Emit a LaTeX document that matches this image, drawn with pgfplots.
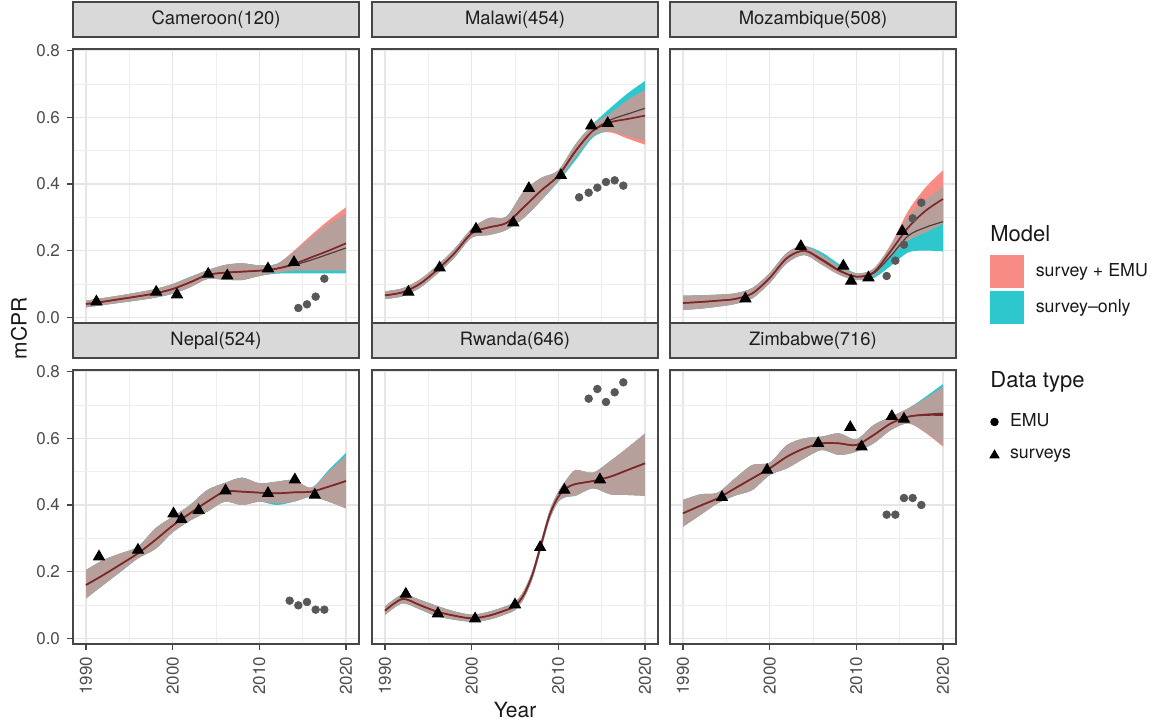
\documentclass[border=0pt]{standalone}
\usepackage{fontspec}
\setmainfont{TeX Gyre Heros}
\usepackage{pgfplots}
\pgfplotsset{compat=1.18}
\usepackage{pgfplotstable}
\usepgfplotslibrary{fillbetween}

\definecolor{pinkc}{RGB}{248,140,133}
\definecolor{cyanc}{RGB}{45,200,205}
\definecolor{overc}{RGB}{183,160,155}
\definecolor{line1c}{RGB}{128,38,38}
\definecolor{line2c}{RGB}{75,62,62}
\definecolor{emuc}{RGB}{88,88,88}
\definecolor{gridmaj}{RGB}{230,230,230}
\definecolor{gridmin}{RGB}{238,238,238}
\definecolor{bordc}{RGB}{70,70,70}
\definecolor{stripc}{RGB}{217,217,217}
\definecolor{striptext}{RGB}{30,30,30}
\definecolor{tickc}{RGB}{77,77,77}

% ---------------- data ----------------
\pgfplotstableread{
yr mid mid2 clo chi plo phi slo shi
1990 0.040 0.040 0.030 0.050 0.030 0.050 0.030 0.050
1992 0.047 0.047 0.037 0.058 0.037 0.058 0.037 0.058
1994 0.055 0.055 0.044 0.066 0.044 0.066 0.044 0.066
1996 0.063 0.063 0.051 0.075 0.051 0.075 0.051 0.075
1998 0.072 0.072 0.059 0.085 0.059 0.085 0.059 0.085
2000 0.085 0.085 0.071 0.100 0.071 0.100 0.071 0.100
2002 0.105 0.105 0.090 0.121 0.090 0.121 0.090 0.121
2004 0.127 0.127 0.115 0.141 0.115 0.141 0.115 0.141
2006 0.134 0.134 0.113 0.157 0.113 0.157 0.113 0.157
2008 0.137 0.137 0.112 0.162 0.112 0.162 0.112 0.162
2010 0.140 0.140 0.124 0.156 0.124 0.156 0.124 0.156
2012 0.146 0.146 0.134 0.160 0.134 0.160 0.131 0.160
2014 0.160 0.157 0.140 0.195 0.140 0.200 0.132 0.195
2016 0.180 0.172 0.140 0.238 0.140 0.247 0.132 0.238
2018 0.200 0.190 0.140 0.278 0.140 0.291 0.132 0.278
2020 0.222 0.208 0.140 0.310 0.140 0.330 0.132 0.310
}\camB
\pgfplotstableread{
yr v
1991.2 0.047
1998.1 0.076
2000.5 0.068
2004.1 0.130
2006.3 0.125
2011.0 0.146
2014.0 0.165
}\camS
\pgfplotstableread{
yr v
2014.5 0.028
2015.5 0.039
2016.5 0.062
2017.5 0.116
}\camE

\pgfplotstableread{
yr mid mid2 clo chi plo phi slo shi
1990 0.066 0.066 0.055 0.078 0.055 0.078 0.055 0.078
1992 0.075 0.075 0.063 0.087 0.063 0.087 0.063 0.087
1994 0.100 0.100 0.088 0.113 0.088 0.113 0.088 0.113
1996 0.142 0.142 0.130 0.155 0.130 0.155 0.130 0.155
1998 0.192 0.192 0.179 0.205 0.179 0.205 0.179 0.205
2000 0.252 0.252 0.239 0.266 0.239 0.266 0.239 0.266
2002 0.270 0.270 0.247 0.298 0.247 0.298 0.247 0.298
2004 0.283 0.283 0.262 0.302 0.262 0.302 0.262 0.302
2006 0.330 0.330 0.298 0.378 0.298 0.378 0.298 0.378
2008 0.380 0.380 0.350 0.418 0.350 0.418 0.350 0.418
2010 0.425 0.425 0.410 0.441 0.410 0.441 0.407 0.441
2012 0.500 0.498 0.482 0.520 0.482 0.520 0.472 0.520
2014 0.560 0.560 0.545 0.578 0.545 0.578 0.540 0.580
2016 0.585 0.592 0.560 0.612 0.555 0.612 0.560 0.628
2018 0.595 0.610 0.545 0.652 0.536 0.652 0.545 0.672
2020 0.605 0.627 0.532 0.682 0.518 0.682 0.532 0.709
}\malB
\pgfplotstableread{
yr v
1992.7 0.076
1996.3 0.149
2000.5 0.265
2004.8 0.284
2006.6 0.387
2010.3 0.426
2013.8 0.575
2015.7 0.582
}\malS
\pgfplotstableread{
yr v
2012.4 0.360
2013.5 0.374
2014.5 0.389
2015.5 0.406
2016.5 0.411
2017.5 0.395
}\malE

\pgfplotstableread{
yr mid mid2 clo chi plo phi slo shi
1990 0.043 0.043 0.022 0.065 0.022 0.065 0.022 0.065
1992 0.046 0.046 0.026 0.066 0.026 0.066 0.026 0.066
1994 0.050 0.050 0.032 0.068 0.032 0.068 0.032 0.068
1996 0.055 0.055 0.040 0.072 0.040 0.072 0.040 0.072
1998 0.072 0.072 0.057 0.088 0.057 0.088 0.057 0.088
2000 0.118 0.118 0.103 0.133 0.103 0.133 0.103 0.133
2002 0.178 0.178 0.163 0.194 0.163 0.194 0.163 0.194
2004 0.200 0.200 0.187 0.214 0.187 0.214 0.187 0.214
2006 0.172 0.175 0.158 0.187 0.158 0.187 0.160 0.195
2008 0.140 0.142 0.128 0.153 0.128 0.153 0.128 0.160
2010 0.122 0.122 0.112 0.132 0.112 0.132 0.112 0.132
2012 0.135 0.132 0.125 0.146 0.125 0.146 0.118 0.146
2014 0.200 0.185 0.183 0.215 0.183 0.220 0.155 0.215
2016 0.270 0.245 0.230 0.300 0.230 0.320 0.195 0.300
2018 0.320 0.270 0.255 0.350 0.255 0.390 0.200 0.350
2020 0.355 0.287 0.280 0.390 0.280 0.441 0.198 0.390
}\mozB
\pgfplotstableread{
yr v
1997.2 0.056
2003.6 0.213
2008.5 0.154
2009.4 0.109
2011.4 0.119
2015.3 0.258
}\mozS
\pgfplotstableread{
yr v
2013.5 0.124
2014.5 0.170
2015.5 0.218
2016.5 0.297
2017.5 0.344
}\mozE

\pgfplotstableread{
yr mid mid2 clo chi plo phi slo shi
1990 0.160 0.160 0.120 0.205 0.120 0.205 0.120 0.205
1992 0.190 0.190 0.160 0.235 0.160 0.235 0.160 0.235
1994 0.222 0.222 0.200 0.255 0.200 0.255 0.200 0.255
1996 0.255 0.255 0.240 0.275 0.240 0.275 0.240 0.275
1998 0.295 0.295 0.268 0.330 0.268 0.330 0.268 0.330
2000 0.338 0.338 0.318 0.365 0.318 0.365 0.318 0.365
2002 0.375 0.375 0.353 0.400 0.353 0.400 0.353 0.400
2004 0.410 0.410 0.380 0.445 0.380 0.445 0.380 0.445
2006 0.440 0.440 0.410 0.466 0.410 0.466 0.410 0.466
2008 0.440 0.440 0.400 0.482 0.400 0.482 0.400 0.482
2010 0.437 0.437 0.410 0.465 0.410 0.465 0.410 0.465
2012 0.435 0.435 0.405 0.470 0.405 0.470 0.400 0.470
2014 0.438 0.438 0.410 0.475 0.410 0.475 0.410 0.475
2016 0.440 0.440 0.425 0.452 0.425 0.452 0.425 0.452
2018 0.455 0.455 0.410 0.500 0.410 0.500 0.410 0.505
2020 0.472 0.472 0.390 0.548 0.390 0.548 0.390 0.556
}\nepB
\pgfplotstableread{
yr v
1991.5 0.245
1996.0 0.265
2000.1 0.374
2001.0 0.357
2003.0 0.384
2006.1 0.443
2011.0 0.435
2014.1 0.476
2016.4 0.430
}\nepS
\pgfplotstableread{
yr v
2013.5 0.113
2014.5 0.099
2015.5 0.109
2016.5 0.086
2017.5 0.086
}\nepE

\pgfplotstableread{
yr mid mid2 clo chi plo phi slo shi
1990 0.083 0.083 0.070 0.096 0.070 0.096 0.070 0.096
1992 0.118 0.118 0.105 0.131 0.105 0.131 0.105 0.131
1994 0.100 0.100 0.087 0.116 0.087 0.116 0.087 0.116
1996 0.080 0.080 0.066 0.097 0.066 0.097 0.066 0.097
1998 0.068 0.068 0.056 0.081 0.056 0.081 0.056 0.081
2000 0.060 0.060 0.050 0.071 0.050 0.071 0.050 0.071
2002 0.068 0.068 0.056 0.080 0.056 0.080 0.056 0.080
2004 0.085 0.085 0.073 0.097 0.073 0.097 0.073 0.097
2005 0.097 0.097 0.085 0.109 0.085 0.109 0.085 0.109
2006 0.130 0.130 0.118 0.142 0.118 0.142 0.118 0.142
2007 0.190 0.190 0.178 0.202 0.178 0.202 0.178 0.202
2008 0.280 0.280 0.268 0.292 0.268 0.292 0.268 0.292
2009 0.370 0.370 0.357 0.383 0.357 0.383 0.357 0.383
2010 0.425 0.425 0.410 0.440 0.410 0.440 0.410 0.440
2011 0.452 0.452 0.425 0.478 0.425 0.478 0.425 0.478
2012 0.463 0.463 0.428 0.505 0.428 0.505 0.428 0.505
2014 0.472 0.472 0.450 0.497 0.450 0.497 0.450 0.497
2016 0.485 0.485 0.432 0.532 0.432 0.532 0.432 0.532
2018 0.505 0.505 0.430 0.572 0.430 0.572 0.430 0.572
2020 0.525 0.525 0.428 0.614 0.428 0.614 0.428 0.614
}\rwaB
\pgfplotstableread{
yr v
1992.4 0.133
1996.1 0.074
2000.4 0.059
2005.0 0.101
2007.9 0.273
2010.7 0.445
2014.8 0.476
}\rwaS
\pgfplotstableread{
yr v
2013.5 0.719
2014.5 0.748
2015.5 0.709
2016.5 0.738
2017.5 0.768
}\rwaE

\pgfplotstableread{
yr mid mid2 clo chi plo phi slo shi
1990 0.375 0.375 0.335 0.415 0.335 0.415 0.335 0.415
1992 0.398 0.398 0.370 0.432 0.370 0.432 0.370 0.432
1994 0.420 0.420 0.405 0.437 0.405 0.437 0.405 0.437
1996 0.450 0.450 0.428 0.480 0.428 0.480 0.428 0.480
1998 0.480 0.480 0.445 0.520 0.445 0.520 0.445 0.520
2000 0.510 0.510 0.490 0.527 0.490 0.527 0.490 0.527
2002 0.545 0.545 0.510 0.580 0.510 0.580 0.510 0.580
2004 0.570 0.570 0.540 0.600 0.540 0.600 0.540 0.600
2006 0.585 0.585 0.565 0.605 0.565 0.605 0.565 0.605
2008 0.585 0.585 0.550 0.615 0.550 0.615 0.550 0.615
2010 0.580 0.580 0.560 0.597 0.560 0.597 0.560 0.597
2012 0.610 0.610 0.585 0.640 0.585 0.640 0.585 0.640
2014 0.645 0.645 0.625 0.665 0.625 0.665 0.625 0.665
2016 0.665 0.665 0.645 0.690 0.645 0.690 0.645 0.690
2018 0.670 0.672 0.620 0.720 0.616 0.720 0.620 0.725
2020 0.670 0.675 0.580 0.755 0.575 0.755 0.580 0.763
}\zimB
\pgfplotstableread{
yr v
1994.5 0.423
1999.7 0.505
2005.6 0.585
2009.3 0.633
2010.6 0.575
2014.1 0.666
2015.5 0.658
}\zimS
\pgfplotstableread{
yr v
2013.5 0.371
2014.5 0.371
2015.5 0.421
2016.5 0.421
2017.5 0.400
}\zimE

% ---------------- styles ----------------
\pgfplotsset{
 panel/.style={
  scale only axis, width=143pt, height=137pt, anchor=south west,
  xmin=1988.5, xmax=2021.5, ymin=-0.017, ymax=0.805,
  xtick={1990,2000,2010,2020}, minor xtick={1995,2005,2015},
  ytick={0,0.2,0.4,0.6,0.8}, minor ytick={0.1,0.3,0.5,0.7},
  grid=both,
  major grid style={draw=gridmaj, line width=0.7pt},
  minor grid style={draw=gridmin, line width=0.35pt},
  axis line style={draw=bordc, line width=0.6pt},
  tick align=outside, xtick pos=bottom, ytick pos=left,
  major tick length=3pt, minor tick length=0pt,
  tick style={draw=bordc, line width=0.6pt},
  ticklabel style={font=\fontsize{8.5}{10}\selectfont, text=tickc},
  /pgf/number format/assume math mode=true,
  xticklabel style={rotate=90, anchor=east, /pgf/number format/1000 sep={}},
  yticklabel style={/pgf/number format/fixed, /pgf/number format/fixed zerofill, /pgf/number format/precision=1},
  title style={at={(0.5,1)}, anchor=south, fill=stripc, draw=bordc, line width=0.6pt,
     minimum width=143pt, minimum height=17.5pt, inner sep=0pt, outer sep=0pt,
     font=\fontsize{9.2}{11}\selectfont, text=striptext},
 },
 nox/.style={xticklabels={}, xtick style={draw=none}},
 noy/.style={yticklabels={}, ytick style={draw=none}},
}

\newcommand{\bands}[4]{%
 \addplot[name path=#1pl, draw=none, smooth] table[x=yr,y=plo]{#2};
 \addplot[name path=#1ph, draw=none, smooth] table[x=yr,y=phi]{#2};
 \addplot[fill=pinkc, draw=none] fill between[of=#1pl and #1ph];
 \addplot[name path=#1sl, draw=none, smooth] table[x=yr,y=slo]{#2};
 \addplot[name path=#1sh, draw=none, smooth] table[x=yr,y=shi]{#2};
 \addplot[fill=cyanc, draw=none] fill between[of=#1sl and #1sh];
 \addplot[name path=#1cl, draw=none, smooth] table[x=yr,y=clo]{#2};
 \addplot[name path=#1ch, draw=none, smooth] table[x=yr,y=chi]{#2};
 \addplot[fill=overc, draw=none] fill between[of=#1cl and #1ch];
 \addplot[line2c, line width=0.6pt, smooth] table[x=yr,y=mid2]{#2};
 \addplot[line1c, line width=0.85pt, smooth] table[x=yr,y=mid]{#2};
 \addplot[only marks, mark=*, mark size=1.9pt, color=emuc] table[x=yr,y=v]{#4};
 \addplot[only marks, mark=triangle*, mark size=3.2pt, color=black] table[x=yr,y=v]{#3};
}

\begin{document}
\begin{tikzpicture}

\begin{axis}[panel, nox, at={(36.5pt,198pt)}, title={Cameroon(120)}]
\bands{cam}{\camB}{\camS}{\camE}
\end{axis}
\begin{axis}[panel, nox, noy, at={(186pt,198pt)}, title={Malawi(454)}]
\bands{mal}{\malB}{\malS}{\malE}
\end{axis}
\begin{axis}[panel, nox, noy, at={(335pt,198pt)}, title={Mozambique(508)}]
\bands{moz}{\mozB}{\mozS}{\mozE}
\end{axis}
\begin{axis}[panel, at={(36.5pt,37.5pt)}, title={Nepal(524)}]
\bands{nep}{\nepB}{\nepS}{\nepE}
\end{axis}
\begin{axis}[panel, noy, at={(186pt,37.5pt)}, title={Rwanda(646)}]
\bands{rwa}{\rwaB}{\rwaS}{\rwaE}
\end{axis}
\begin{axis}[panel, noy, at={(335pt,37.5pt)}, title={Zimbabwe(716)}]
\bands{zim}{\zimB}{\zimS}{\zimE}
\end{axis}

% axis titles
\node[rotate=90, font=\fontsize{10.5}{12}\selectfont, text=black!90] at (9.5pt,195.25pt) {mCPR};
\node[anchor=base, font=\fontsize{10.5}{12}\selectfont, text=black!90] at (257.5pt,1pt) {Year};

% legend: Model
\node[anchor=base west, font=\fontsize{11}{13}\selectfont, text=black!90, inner sep=0pt] at (495pt,238.5pt) {Model};
\begin{axis}[hide axis, scale only axis, width=10pt, height=10pt, at={(495pt,232pt)}, anchor=north west,
  xmin=0, xmax=1, ymin=0, ymax=1,
  legend cell align=left,
  legend style={at={(0,1)}, anchor=north west, draw=none, fill=none, inner sep=0pt, outer sep=0pt,
    font=\fontsize{8.9}{11}\selectfont, row sep=1.5pt, column sep=6pt,
    nodes={inner sep=0pt, text=black!90}},
  legend image code/.code={\fill[#1] (0pt,-8pt) rectangle (16.5pt,8pt);}]
\addplot[draw=none, forget plot] coordinates {(0,0) (1,1)};
\addlegendimage{pinkc}\addlegendentry{survey + EMU}
\addlegendimage{cyanc}\addlegendentry{survey\textendash only}
\end{axis}

% legend: Data type
\node[anchor=base west, font=\fontsize{11}{13}\selectfont, text=black!90, inner sep=0pt] at (495pt,166pt) {Data type};
\begin{axis}[hide axis, scale only axis, width=10pt, height=10pt, at={(495pt,152.5pt)}, anchor=north west,
  xmin=0, xmax=1, ymin=0, ymax=1,
  legend cell align=left,
  legend style={at={(0,1)}, anchor=north west, draw=none, fill=none, inner sep=0pt, outer sep=0pt,
    font=\fontsize{8.9}{11}\selectfont, row sep=9.5pt, column sep=5.5pt,
    nodes={inner sep=0pt, text=black!90}}]
\addplot[draw=none, forget plot] coordinates {(0,0) (1,1)};
\addlegendimage{only marks, mark=*, mark size=1.9pt, black}\addlegendentry{EMU}
\addlegendimage{only marks, mark=triangle*, mark size=2.6pt, black}\addlegendentry{surveys}
\end{axis}

\pgfresetboundingbox
\path[use as bounding box] (0,0) rectangle (576pt,359.5pt);
\end{tikzpicture}
\end{document}
